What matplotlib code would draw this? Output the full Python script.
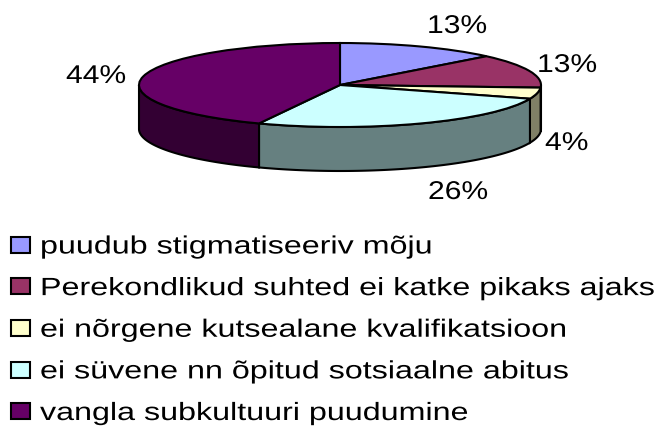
import numpy as np
import matplotlib
matplotlib.use("Agg")
import matplotlib.pyplot as plt
from matplotlib.patches import Polygon, Patch
from matplotlib.patheffects import AbstractPathEffect
from matplotlib.transforms import Affine2D

categories = ["puudub stigmatiseeriv mõju",
              "Perekondlikud suhted ei katke pikaks ajaks",
              "ei nõrgene kutsealane kvalifikatsioon",
              "ei süvene nn õpitud sotsiaalne abitus",
              "vangla subkultuuri puudumine"]
values = [13.0, 13.0, 4.3, 26.3, 43.4]
value_labels = ["13%", "13%", "4%", "26%", "44%"]
top_colors = ["#9999FF", "#993366", "#FFFFCC", "#CCFFFF", "#660066"]
side_colors = ["#4D4D80", "#4D1A33", "#808066", "#668080", "#330033"]
label_px = [(427, 26), (537, 65), (545, 143), (428, 192), (66, 76)]

W, H = 667, 426
CX, CY, RX, RY, DEPTH = 340, 85, 201, 42, 44


class Stretch(AbstractPathEffect):
    """Widen text horizontally, as in the reference's stretched rendering."""
    def __init__(self, sx):
        super().__init__()
        self.sx = sx

    def draw_path(self, renderer, gc, tpath, affine, rgbFace=None):
        renderer.draw_path(gc, tpath, Affine2D().scale(self.sx, 1) + affine, rgbFace)


plt.rcParams["font.family"] = ["Liberation Sans", "DejaVu Sans"]
fig = plt.figure(figsize=(W / 100, H / 100), dpi=100)
ax = fig.add_axes([0, 0, 1, 1])

wedges, _ = ax.pie(values, startangle=90, counterclock=False, radius=1,
                   colors=top_colors, normalize=True,
                   wedgeprops=dict(edgecolor="black", linewidth=1.5, zorder=3))
for w in wedges:
    w.set_zorder(3)
ax.set_aspect("auto")
ax.set_xlim(-CX / RX, (W - CX) / RX)
ax.set_ylim((CY - H) / RY, CY / RY)
ax.axis("off")

d = DEPTH / RY
fr = np.cumsum([0] + values) / sum(values)
for i, col in enumerate(side_colors):
    a0 = max(fr[i] * 360, 90)
    a1 = min(fr[i + 1] * 360, 270)
    if a1 <= a0:
        continue
    t = np.radians(90 - np.linspace(a0, a1, 80))
    x, y = np.cos(t), np.sin(t)
    pts = np.r_[np.c_[x, y], np.c_[x[::-1], y[::-1] - d]]
    ax.add_patch(Polygon(pts, closed=True, facecolor=col, edgecolor="black",
                         linewidth=1.5, zorder=2))

for s, (px, py) in zip(value_labels, label_px):
    fig.text(px / W, 1 - py / H, s, fontsize=18.5, color="black",
             ha="left", va="center", path_effects=[Stretch(1.17)])

handles = [Patch(facecolor=c, edgecolor="black", linewidth=1.5) for c in top_colors]
leg = fig.legend(handles, categories, loc="lower left",
                 bbox_to_anchor=(11 / W, 1 - 425 / H), bbox_transform=fig.transFigure,
                 frameon=False, fontsize=18, borderpad=0, borderaxespad=0,
                 handlelength=0.76, handleheight=0.6, handletextpad=0.4,
                 labelspacing=0.705, labelcolor="black")
for t in leg.get_texts():
    t.set_path_effects([Stretch(1.29)])

fig.savefig("out.png", dpi=100)
